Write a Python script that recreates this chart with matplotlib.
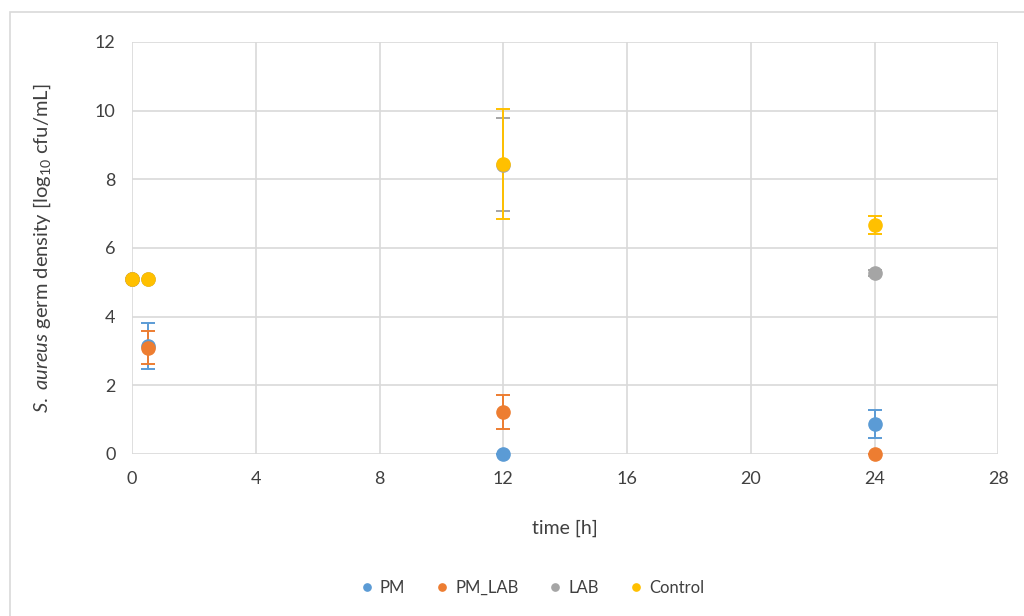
import matplotlib
matplotlib.use("Agg")
import matplotlib.pyplot as plt
from matplotlib.patches import Rectangle

plt.rcParams['font.family'] = ['Lato', 'DejaVu Sans']
plt.rcParams['mathtext.fontset'] = 'custom'
plt.rcParams['mathtext.rm'] = 'Lato'
plt.rcParams['mathtext.it'] = 'Lato:italic'

# data
pm_t = [0, 0.5, 12, 24]
pm_y = [5.1, 3.15, 0.0, 0.87]
pm_err = [0, 0.67, 0, 0.4]

pmlab_t = [0, 0.5, 12, 24]
pmlab_y = [5.1, 3.1, 1.22, 0.0]
pmlab_err = [0, 0.48, 0.5, 0]

lab_t = [0, 0.5, 12, 24]
lab_y = [5.1, 5.1, 8.42, 5.27]
lab_err = [0, 0, 1.35, 0.08]

ctrl_t = [0, 0.5, 12, 24]
ctrl_y = [5.1, 5.1, 8.45, 6.67]
ctrl_err = [0, 0, 1.6, 0.25]

series = [
    ("PM", pm_t, pm_y, pm_err, "#5B9BD5"),
    ("PM_LAB", pmlab_t, pmlab_y, pmlab_err, "#ED7D31"),
    ("LAB", lab_t, lab_y, lab_err, "#A5A5A5"),
    ("Control", ctrl_t, ctrl_y, ctrl_err, "#FFC000"),
]

fig = plt.figure(figsize=(10.24, 6.16), dpi=100)
ax = fig.add_axes([0.129, 0.263, 0.846, 0.669])

fig.patches.append(Rectangle((10 / 1024, -0.1), 1.1, 1 - 12 / 616 + 0.1,
                             transform=fig.transFigure, fill=False,
                             edgecolor="#D9D9D9", linewidth=1.2))

for name, t, y, e, c in series:
    ax.errorbar(t, y, yerr=e, fmt="o", color=c, ecolor=c, markersize=9.5,
                capsize=5, elinewidth=1.4, capthick=1.4, label=name,
                clip_on=False, zorder=3)

ax.set_xlim(0, 28)
ax.set_ylim(0, 12)
ax.set_xticks(range(0, 29, 4))
ax.set_yticks(range(0, 13, 2))
ax.grid(True, color="#D9D9D9", linewidth=1.2)
ax.set_axisbelow(True)
for s in ax.spines.values():
    s.set_visible(False)
ax.tick_params(length=0, labelsize=13, labelcolor="#404040", pad=12)

ax.set_xlabel("time [h]", fontsize=14, color="#404040", labelpad=24)
ax.set_ylabel(r"$\mathit{S.\ aureus}$ germ density [log$_{10}$ cfu/mL]",
              fontsize=14.5, color="#404040", labelpad=30)

h, l = ax.get_legend_handles_labels()
h = [x[0] for x in h]
leg = fig.legend(h, l, loc="center", bbox_to_anchor=(0.518, 0.045), ncol=4,
                 frameon=False, fontsize=12, markerscale=0.55,
                 handletextpad=0.2, columnspacing=1.6, handlelength=1.2)
for t in leg.get_texts():
    t.set_color("#404040")

fig.savefig("out.png", dpi=100)
